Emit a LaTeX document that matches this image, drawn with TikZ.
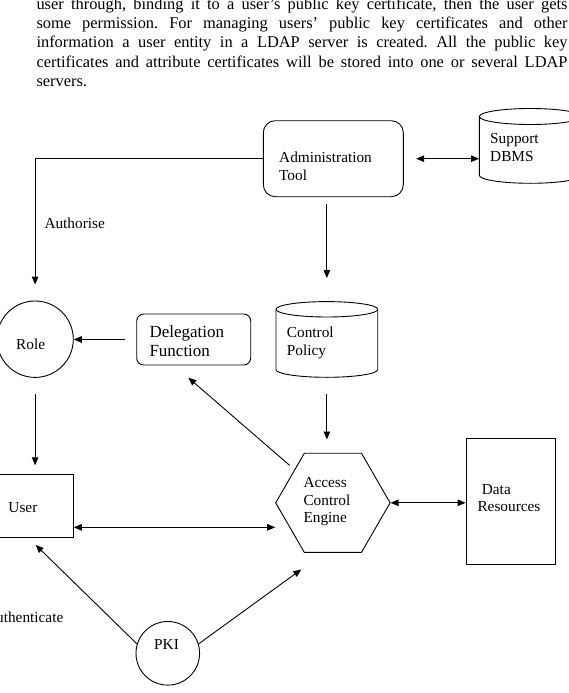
\documentclass[tikz,border=0pt]{standalone}
\usepackage{fontspec}
\setmainfont{Liberation Serif}
\usetikzlibrary{arrows.meta,shapes.geometric}
\frenchspacing
\newcommand{\twolines}[3]{\vtop{\baselineskip=#1pt\hbox{#2}\hbox{#3}}}
\newcommand{\threelines}[4]{\vtop{\baselineskip=#1pt\hbox{#2}\hbox{#3}\hbox{#4}}}
\newcommand{\jline}[1]{\hbox{\makebox[531pt][s]{#1}}}
\begin{document}
\begin{tikzpicture}[x=1pt,y=1pt,
  ln/.style={line width=0.9pt},
  arr/.style={ln,-{Triangle[length=8pt,width=6.5pt]}},
  darr/.style={ln,{Triangle[length=8pt,width=6.5pt]}-{Triangle[length=8pt,width=6.5pt]}},
  txt/.style={inner sep=0pt,anchor=base west,font=\fontsize{15.3}{17.5}\selectfont},
  bigtxt/.style={inner sep=0pt,anchor=base west,font=\fontsize{17}{19}\selectfont},
  rbox/.style={draw,ln,rectangle,inner sep=0pt},
  cylbox/.style={rectangle,inner sep=0pt,draw=none}
]
\useasboundingbox (0,0) rectangle (569,-693);
\clip (0,0) rectangle (569,-693);

% paragraph
\node[inner sep=0pt,anchor=base west,font=\fontsize{16.4}{19.2}\selectfont\frenchspacing] (para) at (36.3,-9.5)
 {\vtop{\baselineskip=19.2pt
  \jline{user through, binding it to a user’s public key certificate, then the user gets}
  \jline{some permission. For managing users’ public key certificates and other}
  \jline{information a user entity in a LDAP server is created. All the public key}
  \jline{certificates and attribute certificates will be stored into one or several LDAP}
  \hbox{servers.}}};

% shapes
\node[rbox,rounded corners=12pt,minimum width=140pt,minimum height=76pt] (admin) at (333.3,-158.7) {};
\node[txt] (admintxt) at (279,-162.7) {\twolines{17.3}{Administration}{Tool}};

\node[cylbox,minimum width=102pt,minimum height=74.8pt] (sup) at (530.3,-145.9) {};
\draw[ln] (530.3,-116.5) ellipse [x radius=51pt, y radius=8pt];
\draw[ln] (479.3,-116.5) -- (479.3,-175.3) arc[start angle=180, end angle=360, x radius=51pt, y radius=8pt] -- (581.3,-116.5);
\node[txt] (suptxt) at (490,-143.3) {\twolines{18.4}{Support}{DBMS}};

\node[cylbox,minimum width=101.7pt,minimum height=75.7pt] (ctrl) at (326.85,-339.45) {};
\draw[ln] (326.85,-309.3) ellipse [x radius=50.85pt, y radius=7.7pt];
\draw[ln] (276,-309.3) -- (276,-369.6) arc[start angle=180, end angle=360, x radius=50.85pt, y radius=7.7pt] -- (377.7,-309.3);
\node[txt] (ctrltxt) at (286.7,-337.7) {\twolines{17.3}{Control}{Policy}};

\node[rbox,rounded corners=7pt,minimum width=114pt,minimum height=51pt] (deleg) at (193.7,-339.5) {};
\node[bigtxt] (delegtxt) at (149.3,-337.7) {\twolines{18.3}{Delegation}{Function}};

\node[circle,draw,ln,minimum size=76.4pt,inner sep=0pt] (role) at (35.1,-339.2) {};
\node[txt] (roletxt) at (16,-349) {Role};

\node[rbox,minimum width=90pt,minimum height=63.3pt] (user) at (28.3,-505.65) {};
\node[txt] (usertxt) at (8.3,-512.7) {User};

\node[regular polygon,regular polygon sides=6,draw,ln,minimum size=114.4pt,inner sep=0pt] (ace) at (332.9,-502.8) {};
\node[txt] (acetxt) at (303.3,-487.7) {\threelines{17.5}{Access}{Control}{Engine}};

\node[rbox,minimum width=89.7pt,minimum height=126pt] (data) at (510.85,-501.3) {};
\node[txt] (datatxt1) at (481.7,-494) {Data};
\node[txt] (datatxt2) at (477.3,-511.7) {Resources};

\node[circle,draw,ln,minimum size=63.6pt,inner sep=0pt] (pki) at (167.8,-653.3) {};
\node[txt] (pkitxt) at (154,-649) {PKI};

\node[txt] (authorise) at (44.3,-228.3) {Authorise};
\node[txt,anchor=base east] (authenticate) at (63.5,-622.7) {Authenticate};

% connectors
\draw[arr,shorten >=16pt] (admin.west) -| (role.north);
\draw[arr,shorten <=6.6pt,shorten >=23.3pt] (admin.south -| ctrl.north) -- (ctrl.north);
\draw[darr,shorten <=12.4pt] (admin.east) -- (admin.east -| sup.west);
\draw[arr,shorten <=11.7pt] (deleg.west) -- (deleg.west -| role.east);
\draw[arr,shorten <=16pt,shorten >=13.3pt] (ctrl.south) -- (ctrl.south |- ace.north);
\draw[arr,shorten <=57.2pt,shorten >=18.7pt] (ace.center) -- ([xshift=-19.5pt]deleg.south);
\draw[arr,shorten <=16pt,shorten >=8.3pt] (role.south) -- (role.south |- user.north);
\draw[darr] ([yshift=-21.65pt]user.east) -- ([yshift=-21.65pt]user.east -| ace.west);
\draw[darr] (ace.east) -- (ace.east -| data.west);
\draw[arr,shorten >=10.2pt] (pki.163.5) -- (user.south);
\draw[arr,shorten >=28.3pt] (pki.17.3) -- ([xshift=-8.7pt]ace.south);
\end{tikzpicture}
\end{document}
